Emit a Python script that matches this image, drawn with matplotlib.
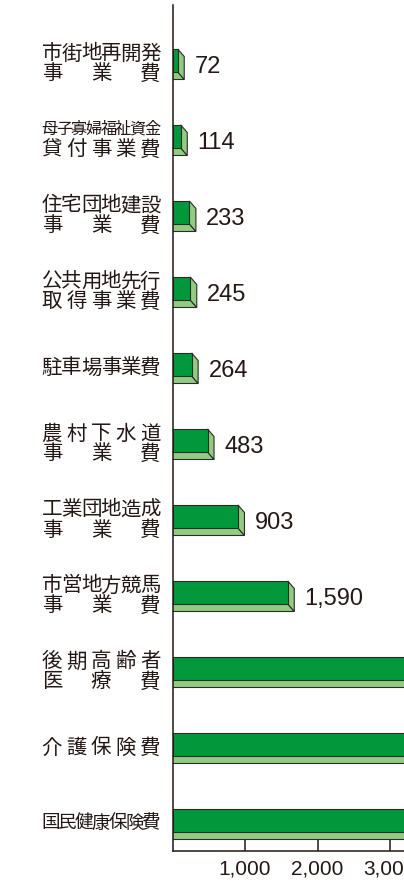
import matplotlib
matplotlib.use("Agg")
import matplotlib.pyplot as plt
from matplotlib.patches import Polygon, Rectangle
import matplotlib.transforms as mtransforms

plt.rcParams['font.family'] = ['Noto Sans CJK JP', 'DejaVu Sans']

# data (top to bottom); the last three run off the right edge of the picture
labels = [
    ["市街地再開発", "事業費"],
    ["母子寡婦福祉資金", "貸付事業費"],
    ["住宅団地建設", "事業費"],
    ["公共用地先行", "取得事業費"],
    ["駐車場事業費"],
    ["農村下水道", "事業費"],
    ["工業団地造成", "事業費"],
    ["市営地方競馬", "事業費"],
    ["後期高齢者", "医療費"],
    ["介護保険費"],
    ["国民健康保険費"],
]
values = [72, 114, 233, 245, 264, 483, 903, 1590, 5400, 25700, 37800]
xticks = [1000, 2000, 3000]

front_col = '#00983a'
light_col = '#92cc80'
edge_col = '#2b2b2b'
text_col = '#231815'

fig = plt.figure(figsize=(4.04, 8.82), dpi=100)
W, H = 404, 882
ax = fig.add_axes([172.5 / W, 31 / H, (W - 172.5) / W, 846 / H])

step = 76.0          # px between bars
top0 = 60.5          # px of first bar centre
ax.set_xlim(0, (W - 172.5) / 72.5 * 1000)
ax.set_ylim((851 - top0) / step, (5 - top0) / step)

h = 23 / step        # front face height
dy = 7.5 / step      # depth downwards
dx = 6.5 * 1000 / 72.5  # depth to the right

for i, v in enumerate(values):
    y0 = i - h / 2
    y1 = i + h / 2
    bottom = Polygon([(0, y1), (v, y1), (v + dx, y1 + dy), (0, y1 + dy)],
                     closed=True, fc=light_col, ec=edge_col, lw=0.8)
    side = Polygon([(v, y0), (v + dx, y0 + dy), (v + dx, y1 + dy), (v, y1)],
                   closed=True, fc=light_col, ec=edge_col, lw=0.8)
    front = Rectangle((0, y0), v, h, fc=front_col, ec=edge_col, lw=0.8)
    ax.add_patch(bottom)
    ax.add_patch(side)
    ax.add_patch(front)
    ax.annotate(f"{v:,}", xy=(v + dx, i + 7 / step), xytext=(7.5, 0),
                textcoords='offset points', ha='left', va='center',
                fontsize=17, color=text_col, family='Liberation Sans')

# category labels, each line spread over the same width
trans = mtransforms.blended_transform_factory(fig.dpi_scale_trans, ax.transData)
left_in, right_in = 0.42, 1.60
box = right_in - left_in
for i, lines in enumerate(labels):
    if len(lines) == 2:
        offs = [(3 - 10) / step, (3 + 10) / step]
    else:
        offs = [3 / step]
    for line, off in zip(lines, offs):
        n = len(line)
        cw = min(box / 6, box / n)
        em = min(cw * 100 * 1.1, box / 6 * 100 * 1.04)
        fs = em * 0.72
        for k, ch in enumerate(line):
            xc = left_in + cw / 2 + k * (box - cw) / (n - 1)
            ax.text(xc, i + off, ch, transform=trans, ha='center', va='center',
                    fontsize=fs, color=text_col, clip_on=False)

ax.spines['top'].set_visible(False)
ax.spines['right'].set_visible(False)
for s in ['left', 'bottom']:
    ax.spines[s].set_linewidth(1.1)
    ax.spines[s].set_color(text_col)

ax.set_yticks([])
ax.set_xticks(xticks)
ax.set_xticklabels([f"{t:,}" for t in xticks],
                   family=['Liberation Sans Narrow', 'Liberation Sans'])
ax.tick_params(axis='x', direction='in', length=8, width=1.1, colors=text_col,
               labelsize=15, pad=6)

fig.savefig('out.png', dpi=100)
